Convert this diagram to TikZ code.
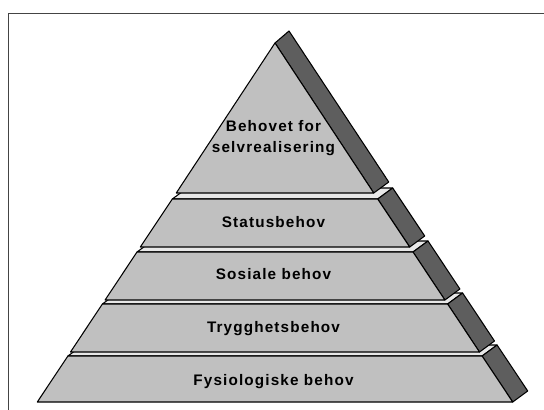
\documentclass[tikz,border=0pt]{standalone}
\usepackage{fontspec}
\setmainfont{Liberation Sans}
\newfontfamily\tierfont[LetterSpace=7.5]{Liberation Sans}
\usepackage{tikz}
\usetikzlibrary{calc}
\usepackage{xcolor}
\definecolor{frontgray}{HTML}{C0C0C0}
\definecolor{sidegray}{HTML}{5E5E5E}
\definecolor{topgray}{HTML}{E8E8E8}
\definecolor{framegray}{HTML}{444444}

\begin{document}
\begin{tikzpicture}[x=0.02cm, y=-0.02cm,
  front/.style={draw=black, line width=0.6pt, fill=frontgray, line join=round},
  side/.style={draw=black, line width=0.6pt, fill=sidegray, line join=round},
  topface/.style={draw=black, line width=0.6pt, fill=topgray, line join=round},
  tiertext/.style={font=\tierfont\bfseries\fontsize{8.7}{11.9}\selectfont, align=center, inner sep=0pt}]
\useasboundingbox (0,0) rectangle (544,409);

% Frame
\draw[framegray, line width=0.9pt] (8.5,420) -- (8.5,13.5) -- (560,13.5);

% Fysiologiske behov
\draw[topface] (67.9,356) -- (482.1,356) -- (497.1,345) -- (82.9,345) -- cycle;
\draw[side] (482.1,356) -- (512.7,402) -- (527.7,391) -- (497.1,345) -- cycle;
\draw[front] (67.9,356) -- (482.1,356) -- (512.7,402) -- (37.3,402) -- cycle;
\node (Fysio) [tiertext, anchor=base] at (273.5,385) {Fysiologiske behov};

% Trygghetsbehov
\draw[topface] (102.4,304) -- (447.6,304) -- (462.6,293) -- (117.4,293) -- cycle;
\draw[side] (447.6,304) -- (479.5,352) -- (494.5,341) -- (462.6,293) -- cycle;
\draw[front] (102.4,304) -- (447.6,304) -- (479.5,352) -- (70.5,352) -- cycle;
\node (Trygg) [tiertext, anchor=base] at (273.5,332.3) {Trygghetsbehov};

% Sosiale behov
\draw[topface] (137,252) -- (413,252) -- (428,241) -- (152,241) -- cycle;
\draw[side] (413,252) -- (444.9,300) -- (459.9,289) -- (428,241) -- cycle;
\draw[front] (137,252) -- (413,252) -- (444.9,300) -- (105.1,300) -- cycle;
\node (Sosial) [tiertext, anchor=base] at (273.5,279.3) {Sosiale behov};

% Statusbehov
\draw[topface] (172.3,199) -- (377.7,199) -- (392.7,188) -- (187.3,188) -- cycle;
\draw[side] (377.7,199) -- (409.7,247) -- (424.7,236) -- (392.7,188) -- cycle;
\draw[front] (172.3,199) -- (377.7,199) -- (409.7,247) -- (140.3,247) -- cycle;
\node (Status) [tiertext, anchor=base] at (273.5,227.7) {Statusbehov};

% Top
\draw[side] (275,43) -- (373.75,193) -- (388.75,182) -- (289,31) -- cycle;
\draw[front] (275,43) -- (373.75,193) -- (176.25,193) -- cycle;
\node (Selv) [tiertext] at (273.5,138) {Behovet for\\selvrealisering};
\end{tikzpicture}
\end{document}
